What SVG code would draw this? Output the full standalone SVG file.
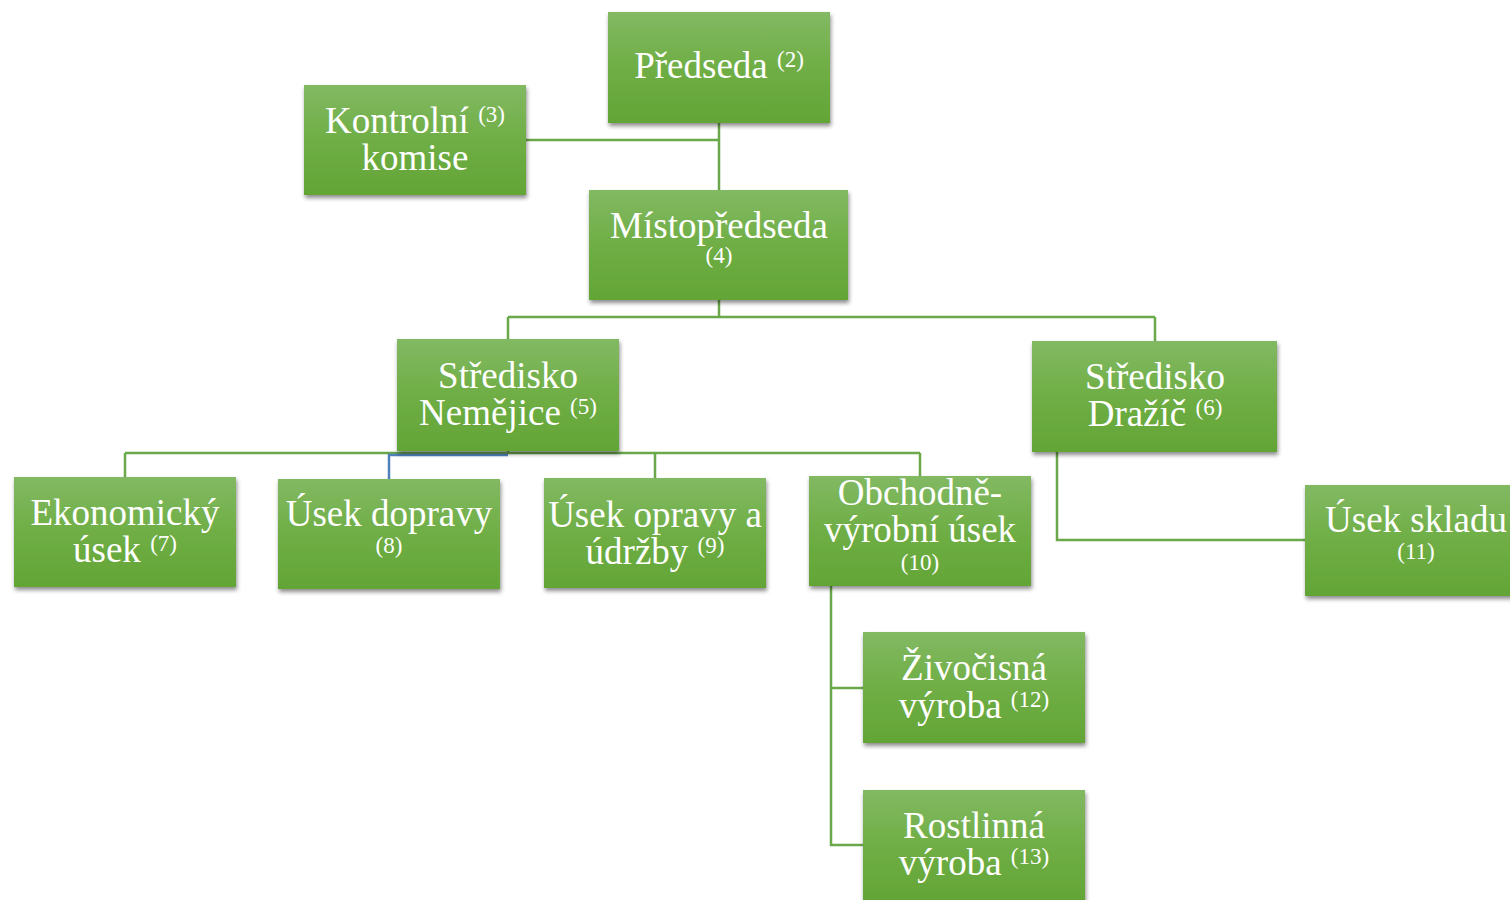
<svg xmlns="http://www.w3.org/2000/svg" width="1510" height="900" viewBox="0 0 1510 900">
<defs>
<linearGradient id="g" x1="0" y1="0" x2="0" y2="1">
<stop offset="0" stop-color="#82b963"/>
<stop offset="0.5" stop-color="#6fae45"/>
<stop offset="1" stop-color="#63a536"/>
</linearGradient>
<filter id="sh" x="-10%" y="-10%" width="125%" height="130%">
<feDropShadow dx="1" dy="3" stdDeviation="2.2" flood-color="#000" flood-opacity="0.45"/>
</filter>
</defs>
<style>
rect.n{fill:url(#g);filter:url(#sh)}
text{font-family:"Liberation Serif","Times New Roman",serif;fill:#fff;text-anchor:middle;font-size:37px}
.s{font-size:23px}
.c{fill:none;stroke:#6aa84a;stroke-width:2.5}
.b{fill:none;stroke:#4f81bd;stroke-width:2.5}
</style>
<g id="connectors">
<path class="c" d="M719,123V190M526,140H719"/>
<path class="c" d="M719,300V317M508,317H1155M508,317V339M1155,317V341"/>
<path class="c" d="M508,451V453M125,453H920M125,453V477M655,453V478M920,453V476"/>
<path class="b" d="M508,455H389V479"/>
<path class="c" d="M1057,452V540H1305"/>
<path class="c" d="M831,586V845H863M831,688H863"/>
</g>
<g id="predseda"><rect class="n" x="608" y="12" width="222" height="111"/>
<text x="719" y="78">Předseda <tspan class="s" dy="-11">(2)</tspan></text></g>
<g id="kontrolni"><rect class="n" x="304" y="85" width="222" height="110"/>
<text x="415" y="133">Kontrolní <tspan class="s" dy="-11">(3)</tspan></text>
<text x="415" y="170">komise</text></g>
<g id="mistopredseda"><rect class="n" x="589" y="190" width="259" height="110"/>
<text x="719" y="238">Místopředseda</text>
<text class="s" x="719" y="263">(4)</text></g>
<g id="nemejice"><rect class="n" x="397" y="339" width="222" height="112"/>
<text x="508" y="388">Středisko</text>
<text x="508" y="425">Nemějice <tspan class="s" dy="-11">(5)</tspan></text></g>
<g id="drazic"><rect class="n" x="1032" y="341" width="245" height="111"/>
<text x="1155" y="389">Středisko</text>
<text x="1155" y="426">Dražíč <tspan class="s" dy="-11">(6)</tspan></text></g>
<g id="ekonomicky"><rect class="n" x="14" y="477" width="222" height="110"/>
<text x="125" y="525">Ekonomický</text>
<text x="125" y="562">úsek <tspan class="s" dy="-11">(7)</tspan></text></g>
<g id="doprava"><rect class="n" x="278" y="479" width="222" height="110"/>
<text x="389" y="526">Úsek dopravy</text>
<text class="s" x="389" y="553">(8)</text></g>
<g id="opravy"><rect class="n" x="544" y="478" width="222" height="110"/>
<text x="655" y="527">Úsek opravy a</text>
<text x="655" y="564">údržby <tspan class="s" dy="-11">(9)</tspan></text></g>
<g id="obchodne"><rect class="n" x="809" y="476" width="222" height="110"/>
<text x="920" y="505">Obchodně-</text>
<text x="920" y="542">výrobní úsek</text>
<text class="s" x="920" y="570">(10)</text></g>
<g id="sklad"><rect class="n" x="1305" y="485" width="222" height="111"/>
<text x="1416" y="532">Úsek skladu</text>
<text class="s" x="1416" y="559">(11)</text></g>
<g id="zivocisna"><rect class="n" x="863" y="632" width="222" height="111"/>
<text x="974" y="680">Živočisná</text>
<text x="974" y="718">výroba <tspan class="s" dy="-11">(12)</tspan></text></g>
<g id="rostlinna"><rect class="n" x="863" y="790" width="222" height="112"/>
<text x="974" y="838">Rostlinná</text>
<text x="974" y="875">výroba <tspan class="s" dy="-11">(13)</tspan></text></g>
</svg>
